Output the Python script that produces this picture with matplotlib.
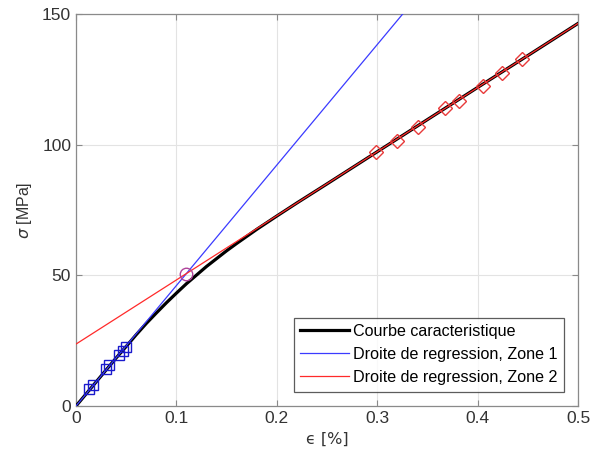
import matplotlib
matplotlib.use("Agg")
import matplotlib.pyplot as plt
import numpy as np

plt.rcParams['font.family'] = ['Liberation Sans', 'DejaVu Sans']

# Characteristic curve
curve_eps = [0, 0.02, 0.04, 0.05, 0.06, 0.07, 0.08, 0.09, 0.10, 0.11, 0.12, 0.13, 0.14, 0.15,
             0.16, 0.18, 0.20, 0.22, 0.25, 0.30, 0.35, 0.40, 0.45, 0.50]
curve_sig = [0, 9.2, 18.4, 22.8, 27.3, 31.6, 35.6, 39.5, 43.2, 46.8, 50.1, 53.4, 56.4, 59.4,
             62.2, 67.6, 72.7, 77.7, 85.0, 97.3, 109.6, 121.9, 134.1, 146.4]

# Zone 1 points (squares)
z1_eps = [0.0133, 0.0173, 0.0299, 0.0332, 0.0425, 0.0465, 0.0498]
z1_sig = [6.4, 8.2, 14.3, 15.6, 19.7, 21.2, 22.6]

# Zone 2 points (diamonds)
z2_eps = [0.299, 0.320, 0.341, 0.368, 0.381, 0.405, 0.424, 0.444]
z2_sig = [97.3, 101.5, 106.9, 114.1, 116.8, 122.5, 127.5, 132.8]

# Regression lines: slope, intercept
z1_slope, z1_icpt = 461.0, 0.0
z2_slope, z2_icpt = 245.4, 23.7

# Intersection
inter_eps = [0.1099]
inter_sig = [50.7]

xticks = [0, 0.1, 0.2, 0.3, 0.4, 0.5]
yticks = [0, 50, 100, 150]

fig = plt.figure(figsize=(5.92, 4.67), dpi=100)
ax = fig.add_axes([0.1284, 0.1306, 0.848, 0.8394])

xl = np.array([0, 0.5])
ax.plot(curve_eps, curve_sig, color='black', lw=2.3, label='Courbe caracteristique', zorder=3)
ax.plot(xl, z1_slope * xl + z1_icpt, color='#3b3bff', lw=0.9, label='Droite de regression, Zone 1', zorder=4)
ax.plot(xl, z2_slope * xl + z2_icpt, color='#ff2a2a', lw=0.9, label='Droite de regression, Zone 2', zorder=4)
ax.plot(z1_eps, z1_sig, ls='none', marker='s', ms=7, mfc='none', mec='#1a1acc', mew=1.0, zorder=5)
ax.plot(z2_eps, z2_sig, ls='none', marker='D', ms=7.5, mfc='none', mec='#e83a3a', mew=1.0, zorder=5)
ax.plot(inter_eps, inter_sig, ls='none', marker='o', ms=9, mfc='none', mec='#b0449a', mew=1.0, zorder=5)

ax.set_xlim(0, 0.5)
ax.set_ylim(0, 150)
ax.set_xticks(xticks)
ax.set_xticklabels(['0', '0.1', '0.2', '0.3', '0.4', '0.5'])
ax.set_yticks(yticks)
ax.grid(True, color='#e3e3e3', lw=0.8)
ax.set_axisbelow(True)
for s in ax.spines.values():
    s.set_color('#8a8a8a')
    s.set_linewidth(0.9)
ax.tick_params(direction='in', length=4, colors='#8a8a8a', labelcolor='#333333', labelsize=12.5,
               top=True, right=True)
ax.set_xlabel('ϵ [%]', fontsize=11.5, color='#333333', labelpad=4,
              family=['DejaVu Sans'])
ax.set_ylabel('$\\sigma$ [MPa]', fontsize=11.5, color='#333333', labelpad=6)

leg = ax.legend(loc='lower right', fontsize=11.6, frameon=True, fancybox=False,
                edgecolor='#333333', borderpad=0.4, handlelength=3.0, handletextpad=0.25,
                labelspacing=0.5, borderaxespad=0.9)
leg.get_frame().set_linewidth(0.9)

fig.savefig('out.png', dpi=100)
